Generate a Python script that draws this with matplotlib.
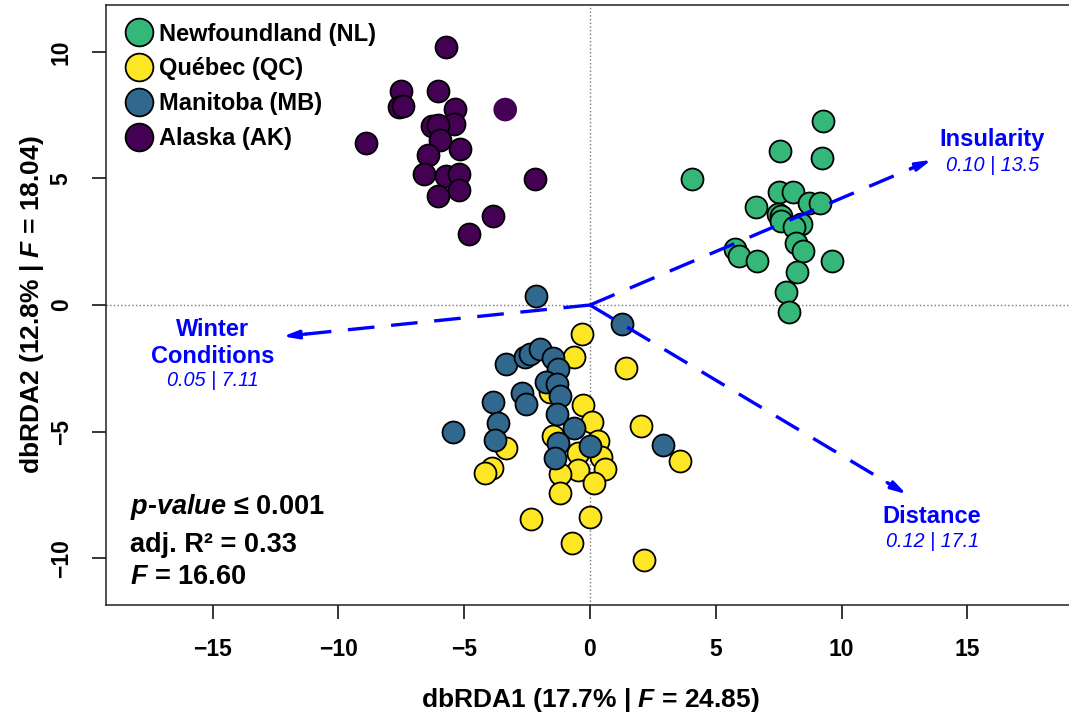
import numpy as np
import matplotlib
matplotlib.use("Agg")
import matplotlib.pyplot as plt
from matplotlib.lines import Line2D

plt.rcParams['font.family'] = ['Liberation Sans', 'DejaVu Sans']
plt.rcParams['font.weight'] = 'bold'
plt.rcParams['axes.labelweight'] = 'bold'
plt.rcParams['mathtext.fontset'] = 'custom'
plt.rcParams['mathtext.rm'] = 'Liberation Sans:bold'
plt.rcParams['mathtext.it'] = 'Liberation Sans:italic:bold'
plt.rcParams['mathtext.bf'] = 'Liberation Sans:bold'

# ---- site scores ----
nl_x = [9.25, 7.56, 9.22, 4.06, 7.50, 8.06, 6.60, 8.72, 9.15, 7.47, 7.60, 7.60,
        8.39, 8.12, 8.19, 8.45, 5.78, 5.92, 6.63, 9.62, 8.21, 7.79, 7.92]
nl_y = [7.28, 6.10, 5.81, 4.98, 4.45, 4.45, 3.86, 4.03, 4.03, 3.60, 3.53, 3.33,
        3.20, 3.07, 2.45, 2.15, 2.21, 1.95, 1.75, 1.75, 1.32, 0.53, -0.26]

qc_x = [-0.30, -0.65, 1.42, -1.60, -0.28, 0.09, 2.01, -1.47, 0.32, -3.35, -0.48, 0.45,
        0.58, -0.48, -1.20, -3.91, -4.18, 0.16, -1.20, 3.56, -2.35, -0.01, -0.70, 2.14]
qc_y = [-1.15, -2.07, -2.49, -3.45, -3.95, -4.61, -4.77, -5.16, -5.36, -5.63, -5.85, -6.02,
        -6.48, -6.51, -6.68, -6.42, -6.64, -7.04, -7.44, -6.18, -8.46, -8.37, -9.41, -10.07]

mb_x = [-2.15, 1.28, -3.32, -2.59, -2.39, -2.00, -1.49, -1.27, -1.73, -1.31, -1.20, -2.72,
        -2.56, -3.87, -3.67, -1.33, -0.65, -5.44, -3.78, -1.27, -0.01, -1.40, 2.90]
mb_y = [0.37, -0.75, -2.33, -2.07, -1.94, -1.74, -2.11, -2.53, -3.06, -3.12, -3.58, -3.48,
        -3.91, -3.82, -4.66, -4.31, -4.87, -5.03, -5.34, -5.45, -5.58, -6.05, -5.52]

ak_x = [-5.74, -7.52, -7.58, -7.45, -6.03, -5.36, -5.40, -6.29, -6.03, -5.96, -8.90, -5.17,
        -6.43, -6.59, -5.74, -5.20, -5.22, -6.03, -2.18, -3.85, -4.80]
ak_y = [10.19, 8.47, 7.81, 7.88, 8.47, 7.75, 7.15, 7.09, 7.11, 6.53, 6.39, 6.17,
        5.93, 5.18, 5.11, 5.18, 4.56, 4.30, 4.98, 3.53, 2.81]
ak_x_noedge = [-3.37]
ak_y_noedge = [7.72]

regions = ["Newfoundland (NL)", "Québec (QC)", "Manitoba (MB)", "Alaska (AK)"]
colors = ["#35B779", "#FDE725", "#31688E", "#440154"]

# ---- fitted environmental vectors ----
vec_names = ["Insularity", "Winter\nConditions", "Distance"]
vec_stats = ["0.10 | 13.5", "0.05 | 7.11", "0.12 | 17.1"]
vec_x = [13.57, -12.20, 12.58]
vec_y = [5.73, -1.24, -7.47]
lab_x = [16.0, -15.0, 13.6]
lab_y = [6.52, -1.50, -8.35]
sub_y = [5.50, -2.99, -9.34]

fig = plt.figure(figsize=(10.69, 7.15), dpi=100)
ax = fig.add_axes([106/1069, 110/715, 968/1069, 600/715])
ax.set_xlim(-19.24, 19.24)
ax.set_ylim(-11.85, 11.85)

ax.axvline(0, color="#777777", ls=":", lw=1.0, zorder=1)
ax.axhline(0, color="#777777", ls=":", lw=1.0, zorder=1)

pts = [(nl_x, nl_y), (qc_x, qc_y), (mb_x, mb_y), (ak_x, ak_y)]
for (xs, ys), c in zip(pts, colors):
    ax.scatter(xs, ys, s=250, c=c, edgecolors="black", linewidths=1.3, zorder=3)
ax.scatter(ak_x_noedge, ak_y_noedge, s=290, c=colors[3], edgecolors="none", zorder=3)

for tx, ty, nm, st, lx, ly, sy in zip(vec_x, vec_y, vec_names, vec_stats, lab_x, lab_y, sub_y):
    L = np.hypot(tx, ty)
    ux, uy = tx/L, ty/L
    ax.plot([0, tx - 0.5*ux], [0, ty - 0.5*uy], color="blue", lw=2.4,
            dashes=(8, 5), solid_capstyle="butt", zorder=4)
    ax.annotate("", xy=(tx, ty), xytext=(tx - 0.9*ux, ty - 0.9*uy),
                arrowprops=dict(arrowstyle="-|>,head_length=0.9,head_width=0.25",
                                color="blue", lw=2.2, shrinkA=0, shrinkB=0), zorder=4)
    ax.text(lx, ly, nm, color="blue", fontsize=17, ha="center", va="center",
            linespacing=1.25, zorder=5)
    ax.text(lx, sy, st, color="blue", fontsize=14.3, fontweight="normal",
            style="italic", ha="center", va="center", zorder=5)

ax.text(-18.27, -7.99, r"$\mathit{p}$-$\mathit{value}$ ≤ 0.001", fontsize=19.5,
        ha="left", va="center")
ax.text(-18.27, -9.49, "adj. R² = 0.33", fontsize=19.5, ha="left", va="center")
ax.text(-18.27, -10.75, r"$\mathit{F}$ = 16.60", fontsize=19.5, ha="left", va="center")

handles = [Line2D([], [], ls="none", marker="o", ms=20, mfc=c, mec="black", mew=1.3)
           for c in colors]
ax.legend(handles, regions, loc="upper left", bbox_to_anchor=(0, 1.006),
          frameon=False, fontsize=17, handlelength=1.0, handletextpad=0.35,
          labelspacing=0.5, borderaxespad=0.4, borderpad=0.5)

ax.set_xticks([-15, -10, -5, 0, 5, 10, 15])
ax.set_yticks([-10, -5, 0, 5, 10])
ax.tick_params(length=10, width=1.1, pad=14, labelsize=16.5)
ax.tick_params(axis="y", labelrotation=90)
for lab in ax.get_yticklabels():
    lab.set_va("center")
for sp in ax.spines.values():
    sp.set_linewidth(1.1)
    sp.set_color("#222222")

ax.set_xlabel(r"dbRDA1 (17.7% | $\mathit{F}$ = 24.85)", fontsize=19, labelpad=18)
ax.set_ylabel(r"dbRDA2 (12.8% | $\mathit{F}$ = 18.04)", fontsize=19, labelpad=3)

fig.savefig("out.png", dpi=100)
